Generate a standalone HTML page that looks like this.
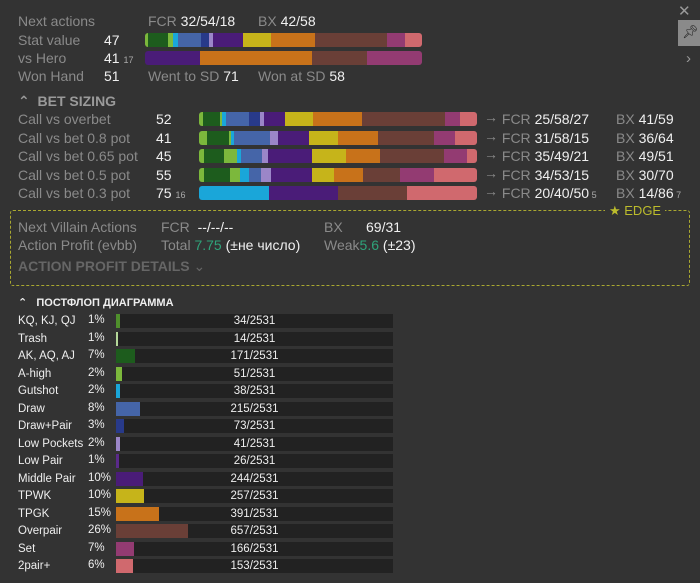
<!DOCTYPE html>
<html><head><meta charset="utf-8">
<style>
body{margin:0;width:700px;height:583px;background:#333333;overflow:hidden;font-family:"Liberation Sans","DejaVu Sans",sans-serif;position:relative}
.a{position:absolute;white-space:nowrap}
.g{color:#8a8a8a}.w{color:#f0f0f0}
.t{font-size:14px;line-height:16px}
.bar{position:absolute;height:14px;border-radius:3px;overflow:hidden;display:flex}
.bar div{height:100%}
.pf{font-size:11.5px;line-height:13px;color:#eee}
.arr{display:inline-block;position:relative;top:-2px}
</style></head><body>
<div class="a t g" style="left:18px;top:13px">Next actions</div>
<div class="a t" style="left:148px;top:13px"><span class="g">FCR </span><span class="w">32/54/18</span></div>
<div class="a t" style="left:258px;top:13px"><span class="g">BX </span><span class="w">42/58</span></div>
<div class="a t g" style="left:18px;top:32px">Stat value</div>
<div class="a t w" style="left:104px;top:32px">47</div>
<div class="a t g" style="left:18px;top:50px">vs Hero</div>
<div class="a t w" style="left:104px;top:50px">41 <span style="font-size:9px;color:#aaa">17</span></div>
<div class="a t g" style="left:18px;top:68px">Won Hand</div>
<div class="a t w" style="left:104px;top:68px">51</div>
<div class="a t" style="left:148px;top:68px"><span class="g">Went to SD </span><span class="w">71</span></div>
<div class="a t" style="left:258px;top:68px"><span class="g">Won at SD </span><span class="w">58</span></div>

<div class="a" style="left:678px;top:2px;color:#999;font-size:15px">✕</div>
<div class="a" style="left:678px;top:20px;width:22px;height:26px;background:#8a8a8a"><div style="position:absolute;left:4px;top:4px;font-size:13px;color:#222">📌︎</div></div>
<div class="a" style="left:686px;top:50px;color:#999;font-size:15px">›</div>

<div class="a" style="left:18px;top:93px;font-size:14px;font-weight:bold;color:#9a9a9a">⌃&nbsp; BET SIZING</div>

<div id="betrows"></div>

<div class="a" style="left:10px;top:210px;width:678px;height:74px;border:1px dashed #a9a830;border-radius:3px"></div>
<div class="a" style="left:605px;top:203px;background:#333;padding:0 4px;color:#bcbc2c;font-size:13px">★ EDGE</div>
<div class="a t g" style="left:18px;top:219px">Next Villain Actions</div>
<div class="a t" style="left:161px;top:219px"><span class="g">FCR&nbsp; </span><span class="w">--/--/--</span></div>
<div class="a t" style="left:324px;top:219px"><span class="g">BX&nbsp;&nbsp;&nbsp;&nbsp;&nbsp; </span><span class="w">69/31</span></div>
<div class="a t g" style="left:18px;top:237px">Action Profit (evbb)</div>
<div class="a t" style="left:161px;top:237px"><span class="g">Total </span><span style="color:#2fa37a">7.75</span><span class="w"> (±не число)</span></div>
<div class="a t" style="left:324px;top:237px"><span class="g">Weak</span><span style="color:#2fa37a">5.6</span><span class="w"> (±23)</span></div>
<div class="a" style="left:18px;top:258px;font-size:14px;font-weight:bold;color:#666">ACTION PROFIT DETAILS <span style="font-weight:normal">⌄</span></div>

<div class="a" style="left:18px;top:296px;font-size:11px;font-weight:bold;color:#eee">⌃&nbsp;&nbsp; ПОСТФЛОП ДИАГРАММА</div>
<div id="pfrows"></div>

<script>
const C={lg:'#7cb83c',dg:'#1d5c1d',cy:'#1aa6d9',bl:'#4565a8',nv:'#283a8a',lv:'#9b86c8',pu:'#4a1c78',ye:'#c6b41a',or:'#c8721a',br:'#6a3f37',mg:'#933b72',pk:'#d0696e'};
const statKeys=['lg','dg','lg','cy','bl','nv','lv','pu','ye','or','br','mg','pk'];
const statVals=[10,58,15,15,70,23,12,90,85,130,215,53,52];
const heroKeys=['pu','or','br','mg'];
const heroVals=[165,335,165,165];
const betLabels=['Call vs overbet','Call vs bet 0.8 pot','Call vs bet 0.65 pot','Call vs bet 0.5 pot','Call vs bet 0.3 pot'];
const betStats=['52','41','45','55','75'];
const betSmall=['','','','','16'];
const betFCR=['25/58/27','31/58/15','35/49/21','34/53/15','20/40/50'];
const betFCRs=['','','','','5'];
const betBX=['41/59','36/64','49/51','30/70','14/86'];
const betBXs=['','','','','7'];
const betKeys=[
['lg','dg','lg','cy','bl','nv','lv','pu','ye','or','br','mg','pk'],
['lg','dg','lg','cy','bl','lv','pu','ye','or','br','mg','pk'],
['lg','dg','lg','cy','bl','lv','pu','ye','or','br','mg','pk'],
['lg','dg','lg','cy','bl','lv','pu','ye','or','br','mg','pk'],
['cy','pu','br','pk']];
const betVals=[
[12,50,8,10,70,32,12,63,85,145,250,45,50],
[24,65,8,8,107,25,92,88,120,167,63,65],
[16,59,40,12,63,17,130,103,102,190,70,30],
[14,80,30,25,38,30,122,66,87,110,102,128],
[209,206,207,210]];
const pfLabels=['KQ, KJ, QJ','Trash','AK, AQ, AJ','A-high','Gutshot','Draw','Draw+Pair','Low Pockets','Low Pair','Middle Pair','TPWK','TPGK','Overpair','Set','2pair+'];
const pfPct=['1%','1%','7%','2%','2%','8%','3%','2%','1%','10%','10%','15%','26%','7%','6%'];
const pfCounts=[34,14,171,51,38,215,73,41,26,244,257,391,657,166,153];
const pfTotal=2531;
const pfColors=['#4f8f2c','#b5d89a','#1d5c1d','#7cb83c','#1aa6d9','#4565a8','#283a8a','#9b86c8','#5a2a8a','#4a1c78','#c6b41a','#c8721a','#6a3f37','#933b72','#d0696e'];

function seg(bar,keys,vals,w){
  const tot=vals.reduce((a,b)=>a+b,0);
  vals.forEach((v,i)=>{const d=document.createElement('div');
    d.style.width=(v/tot*w)+'px';d.style.background=C[keys[i]];
    
    
    bar.appendChild(d);});
}
function mk(cls,x,y,html,parent){const e=document.createElement('div');e.className=cls;e.style.left=x+'px';e.style.top=y+'px';e.innerHTML=html;(parent||document.body).appendChild(e);return e;}
let b=mk('bar',145,33,'');b.style.width='277px';


seg(b,statKeys,statVals,277);
b=mk('bar',145,51,'');b.style.width='277px';


seg(b,heroKeys,heroVals,277);

const br=document.getElementById('betrows');
betLabels.forEach((l,i)=>{const y=111+i*18.5;
  let e=mk('a t g',18,y,l,br);
  
  
  e=mk('a t w',156,y,betStats[i]+(betSmall[i]?' <span style="font-size:9px;color:#aaa">'+betSmall[i]+'</span>':''),br);
  
  
  const bb=mk('bar',199,y+1,'',br);bb.style.width='278px';
  
  
  seg(bb,betKeys[i],betVals[i],278);
  e=mk('a t',484,y,'<span class="g"><span class="arr">→</span> FCR </span><span class="w">'+betFCR[i]+'</span>'+(betFCRs[i]?'<span style="font-size:9px;color:#aaa"> '+betFCRs[i]+'</span>':''),br);
  
  
  e=mk('a t',616,y,'<span class="g">BX </span><span class="w">'+betBX[i]+'</span>'+(betBXs[i]?'<span style="font-size:9px;color:#aaa"> '+betBXs[i]+'</span>':''),br);
  
  
});

const pr=document.getElementById('pfrows');
pfLabels.forEach((l,i)=>{const y=314+i*17.5;
  let e=mk('a pf',18,y+1,l,pr);
  
  
  e=mk('a pf',88,y,pfPct[i],pr);
  
  
  const bg=mk('a',116,y,'',pr);bg.style.cssText+='width:277px;height:14px;background:#222;';
  
  
  const f=mk('a',0,0,'',bg);f.style.cssText+='height:14px;background:'+pfColors[i]+';width:'+(pfCounts[i]/pfTotal*277)+'px;';
  
  
  const t=mk('a pf',0,1,pfCounts[i]+'/'+pfTotal,bg);t.style.cssText+='width:277px;text-align:center;';
  
  
});
</script>
</body></html>
